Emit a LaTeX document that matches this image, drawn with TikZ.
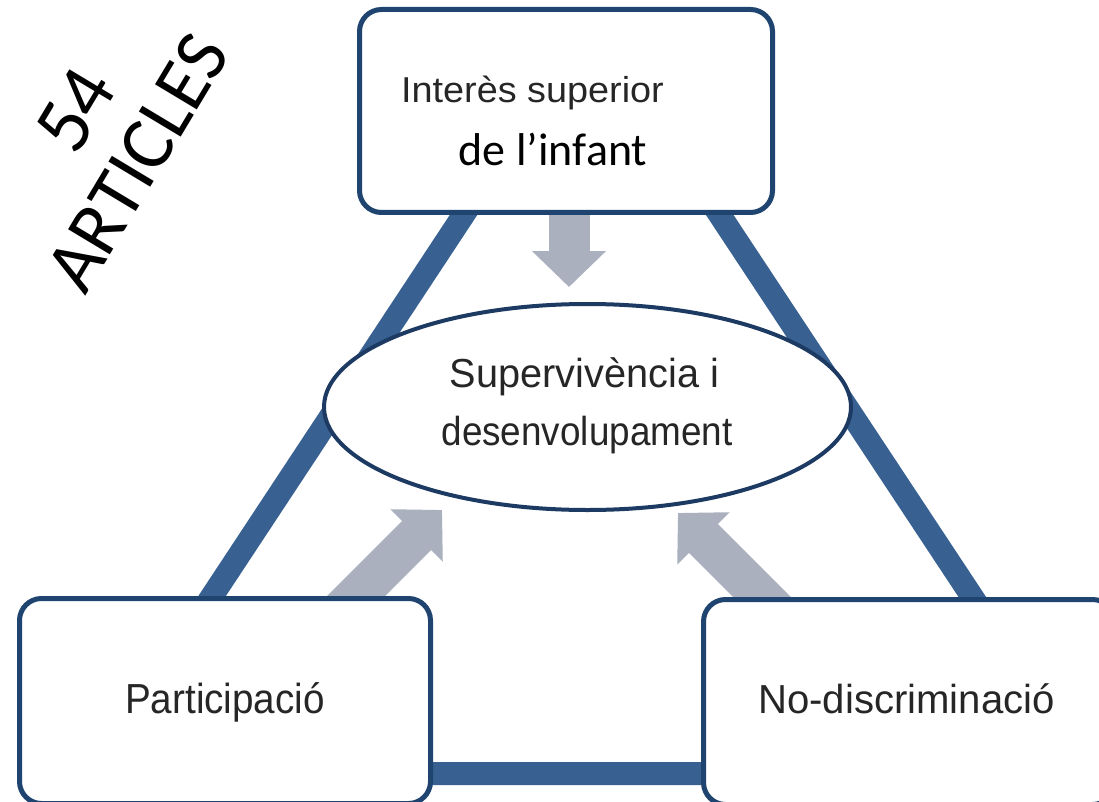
\documentclass[tikz,border=0pt]{standalone}
\usepackage{fontspec}
\setmainfont{Liberation Sans}
\newfontfamily\calib{Carlito}
\usetikzlibrary{arrows.meta,shapes.geometric}
\definecolor{tri}{HTML}{386192}
\definecolor{boxline}{HTML}{1F4470}
\definecolor{ellline}{HTML}{1C3A62}
\definecolor{arr}{HTML}{AAB0BE}
\definecolor{txt}{HTML}{262626}
\newcommand{\hsc}[2]{\scalebox{#1}[1]{#2}}
\begin{document}
\begin{tikzpicture}[x=1pt,y=-1pt,
  boxn/.style={draw=boxline, line width=5pt, fill=white, rounded corners=22pt, inner sep=0pt},
  ellnode/.style={ellipse, draw=ellline, line width=4pt, fill=white, inner sep=0pt},
  lbl/.style={anchor=base, inner sep=0pt, text=txt},
  blk/.style={inner sep=0pt, text=black},
  garrow/.style={draw=arr, line width=41pt, -{Triangle[width=72pt,length=36pt]}},
  triline/.style={draw=tri, line width=23pt, line join=round}
]
\useasboundingbox (0,0) rectangle (1099,802);
\clip (0,0) rectangle (1099,802);
\fill[white] (0,0) rectangle (1099,802);

% triangle behind everything
\coordinate (tA) at (591.5,21);
\coordinate (tB) at (95,773.5);
\coordinate (tC) at (1089,773.5);
\draw[triline] (tA) -- (tB) -- (tC) -- cycle;

% gray arrows
\coordinate (a1s) at (569,190);
\coordinate (a1e) at (569,287);
\coordinate (a2s) at (332,620);
\coordinate (a2e) at (442,510);
\coordinate (a3s) at (788,623);
\coordinate (a3e) at (678,513);
\draw[garrow] (a1s) -- (a1e);
\draw[garrow] (a2s) -- (a2e);
\draw[garrow] (a3s) -- (a3e);

% boxes
\node[boxn, minimum width=413pt, minimum height=203pt] (top) at (566,111) {};
\node[boxn, minimum width=411pt, minimum height=205pt] (left) at (225,701) {};
\node[boxn, minimum width=411pt, minimum height=205pt] (right) at (909,702) {};
\node[ellnode, minimum width=527pt, minimum height=206pt] (ell) at (587.5,407) {};

% texts
\node[lbl, font=\fontsize{36}{40}\selectfont] (t1) at (532.5,103) {\hsc{1.05}{Interès superior}};
\node[blk, anchor=base, font=\calib\fontsize{46}{50}\selectfont] (t2) at (553,166) {de l’infant};
\node[lbl, font=\fontsize{40.5}{44}\selectfont] (e1) at (584.5,387) {\hsc{0.98}{Supervivència i}};
\node[lbl, font=\fontsize{40.5}{44}\selectfont] (e2) at (587,445) {\hsc{0.91}{desenvolupament}};
\node[lbl, font=\fontsize{42}{46}\selectfont] (p1) at (225,713) {\hsc{0.92}{Participació}};
\node[lbl, font=\fontsize{40.5}{44}\selectfont] (p2) at (906.5,713) {\hsc{0.99}{No-discriminació}};

\node[blk, rotate=59, font=\calib\fontsize{80}{88}\selectfont] (n54) at (76,110) {54};
\node[blk, rotate=59, font=\calib\fontsize{76}{84}\selectfont] (art) at (137.5,162.5) {ARTICLES};
\end{tikzpicture}
\end{document}
